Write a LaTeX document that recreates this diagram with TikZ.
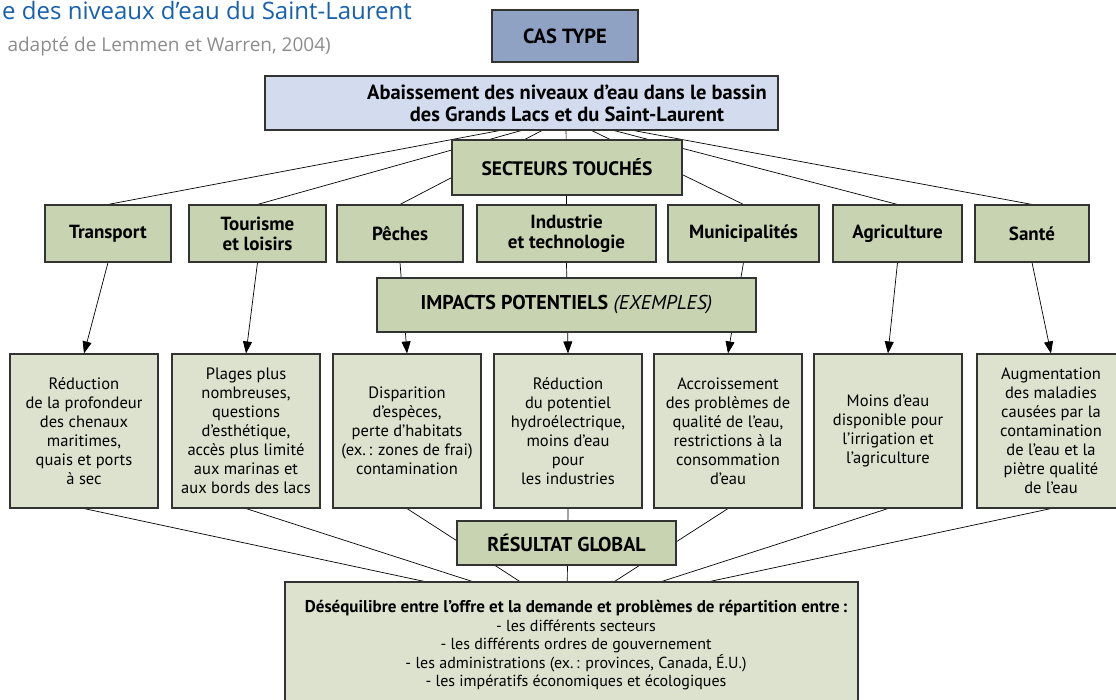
\documentclass[tikz,border=0pt]{standalone}
\usepackage{fontspec}
\setmainfont{PT Sans}
\newfontfamily\titlefont{Open Sans}
\usetikzlibrary{arrows.meta}
\pgfdeclarelayer{bg}
\pgfsetlayers{bg,main}
\definecolor{boxgreen}{HTML}{C8D3B1}
\definecolor{boxlight}{HTML}{DDE2CE}
\definecolor{casblue}{HTML}{8FA2C4}
\definecolor{topblue}{HTML}{D3DCEE}
\definecolor{titleblue}{HTML}{1660AE}
\definecolor{subgray}{HTML}{8C8C8C}
\definecolor{edge}{HTML}{333333}
\begin{document}
\begin{tikzpicture}[x=1pt,y=-1pt,
  box/.style={draw=edge, line width=1.1pt, inner sep=0pt, align=center, font=\bfseries\fontsize{19}{20}\selectfont},
  gbox/.style={box, fill=boxgreen},
  secbox/.style={gbox, minimum height=57pt},
  lbox/.style={draw=edge, line width=1.1pt, fill=boxlight, inner sep=0pt, align=center, font=\fontsize{16.5}{19}\selectfont, minimum width=148pt, minimum height=154pt},
  conn/.style={draw=black, line width=0.7pt},
  arr/.style={conn, -{Triangle[length=12pt,width=9pt]}},
  ]
\useasboundingbox (0,0) rectangle (1116,700);

% titles
\node[anchor=base east, inner sep=0pt, text=titleblue, font=\titlefont\fontsize{24}{28}\selectfont] (title) at (412,20) {e des niveaux d’eau du Saint-Laurent};
\node[anchor=base east, inner sep=0pt, text=subgray, font=\titlefont\fontsize{19}{22}\selectfont] (subtitle) at (331,52) {adapté de Lemmen et Warren, 2004)};

% top
\node[box, fill=casblue, minimum width=146pt, minimum height=52pt, font=\bfseries\fontsize{20.5}{22}\selectfont] (cas) at (565,36) {CAS TYPE};
\node[box, fill=topblue, minimum width=513pt, minimum height=54pt] (top) at (521.5,103) {};
\node[inner sep=0pt, align=center, font=\bfseries\fontsize{20.5}{22}\selectfont] (toptext) at (567,103) {Abaissement des niveaux d’eau dans le bassin\\des Grands Lacs et du Saint-Laurent};
\coordinate (hubA) at (566,118);
\coordinate (hubB) at (567,612);

\node[gbox, minimum width=230pt, minimum height=55pt, font=\bfseries\fontsize{19.5}{21}\selectfont] (sect) at (567,167.5) {SECTEURS TOUCHÉS};

% sectors
\node[secbox, minimum width=126pt] (s1) at (108,233.5) {Transport};
\node[secbox, minimum width=137pt] (s2) at (257.5,233.5) {Tourisme\\et loisirs};
\node[secbox, minimum width=126pt] (s3) at (400,233.5) {Pêches};
\node[secbox, minimum width=179pt] (s4) at (566.5,233.5) {Industrie\\et technologie};
\node[secbox, minimum width=151pt] (s5) at (743.5,233.5) {Municipalités};
\node[secbox, minimum width=129pt] (s6) at (897.5,233.5) {Agriculture};
\node[secbox, minimum width=114pt] (s7) at (1032,233.5) {Santé};

\node[gbox, minimum width=379pt, minimum height=54pt, font=\fontsize{20}{22}\selectfont] (imp) at (566.5,305) {\textbf{IMPACTS POTENTIELS} \textit{(EXEMPLES)}};

% impacts
\node[lbox] (i1) at (84,431) {Réduction\\de la profondeur\\des chenaux\\maritimes,\\quais et ports\\à sec};
\node[lbox] (i2) at (246,431) {Plages plus\\nombreuses,\\questions\\d’esthétique,\\accès plus limité\\aux marinas et\\aux bords des lacs};
\node[lbox] (i3) at (407,431) {Disparition\\d’espèces,\\perte d’habitats\\(ex.\,: zones de frai)\\contamination};
\node[lbox] (i4) at (568,431) {Réduction\\du potentiel\\hydroélectrique,\\moins d’eau\\pour\\les industries};
\node[lbox] (i5) at (728,431) {Accroissement\\des problèmes de\\qualité de l’eau,\\restrictions à la\\consommation\\d’eau};
\node[lbox] (i6) at (888,431) {Moins d’eau\\disponible pour\\l’irrigation et\\l’agriculture};
\node[lbox] (i7) at (1051,431) {Augmentation\\des maladies\\causées par la\\contamination\\de l’eau et la\\piètre qualité\\de l’eau};

\node[gbox, minimum width=219pt, minimum height=44pt, font=\bfseries\fontsize{20}{22}\selectfont] (res) at (566.5,543) {RÉSULTAT GLOBAL};

\node[draw=edge, line width=1.1pt, fill=boxlight, inner sep=0pt, minimum width=573pt, minimum height=138pt] (bot) at (571.5,651) {};
\node[anchor=north, inner sep=0pt, align=center, font=\fontsize{16}{18.5}\selectfont] (bottext) at (576,600.5) {{\bfseries\fontsize{17}{18.5}\selectfont Déséquilibre entre l’offre et la demande et problèmes de répartition entre\,:}\\- les différents secteurs\\- les différents ordres de gouvernement\\- les administrations (ex.\,: provinces, Canada, É.U.)\\- les impératifs économiques et écologiques};

\begin{pgfonlayer}{bg}
\foreach \s in {s1,s2,s3,s4,s5,s6,s7}{\draw[conn] (hubA) -- (\s.north);}
\draw[arr] (s1.south) -- (i1.north);
\draw[arr] (s2.south) -- (i2.north);
\draw[arr] (s3.south) -- (i3.north);
\draw[arr] (s4.south) -- (i4.north);
\draw[arr] (s5.south) -- (i5.north);
\draw[arr] (s6.south) -- (i6.north);
\draw[arr] (s7.south) -- (i7.north);
\foreach \i in {i1,i2,i3,i4,i5,i6,i7}{\draw[conn] (\i.south) -- (hubB);}
\end{pgfonlayer}
\end{tikzpicture}
\end{document}
